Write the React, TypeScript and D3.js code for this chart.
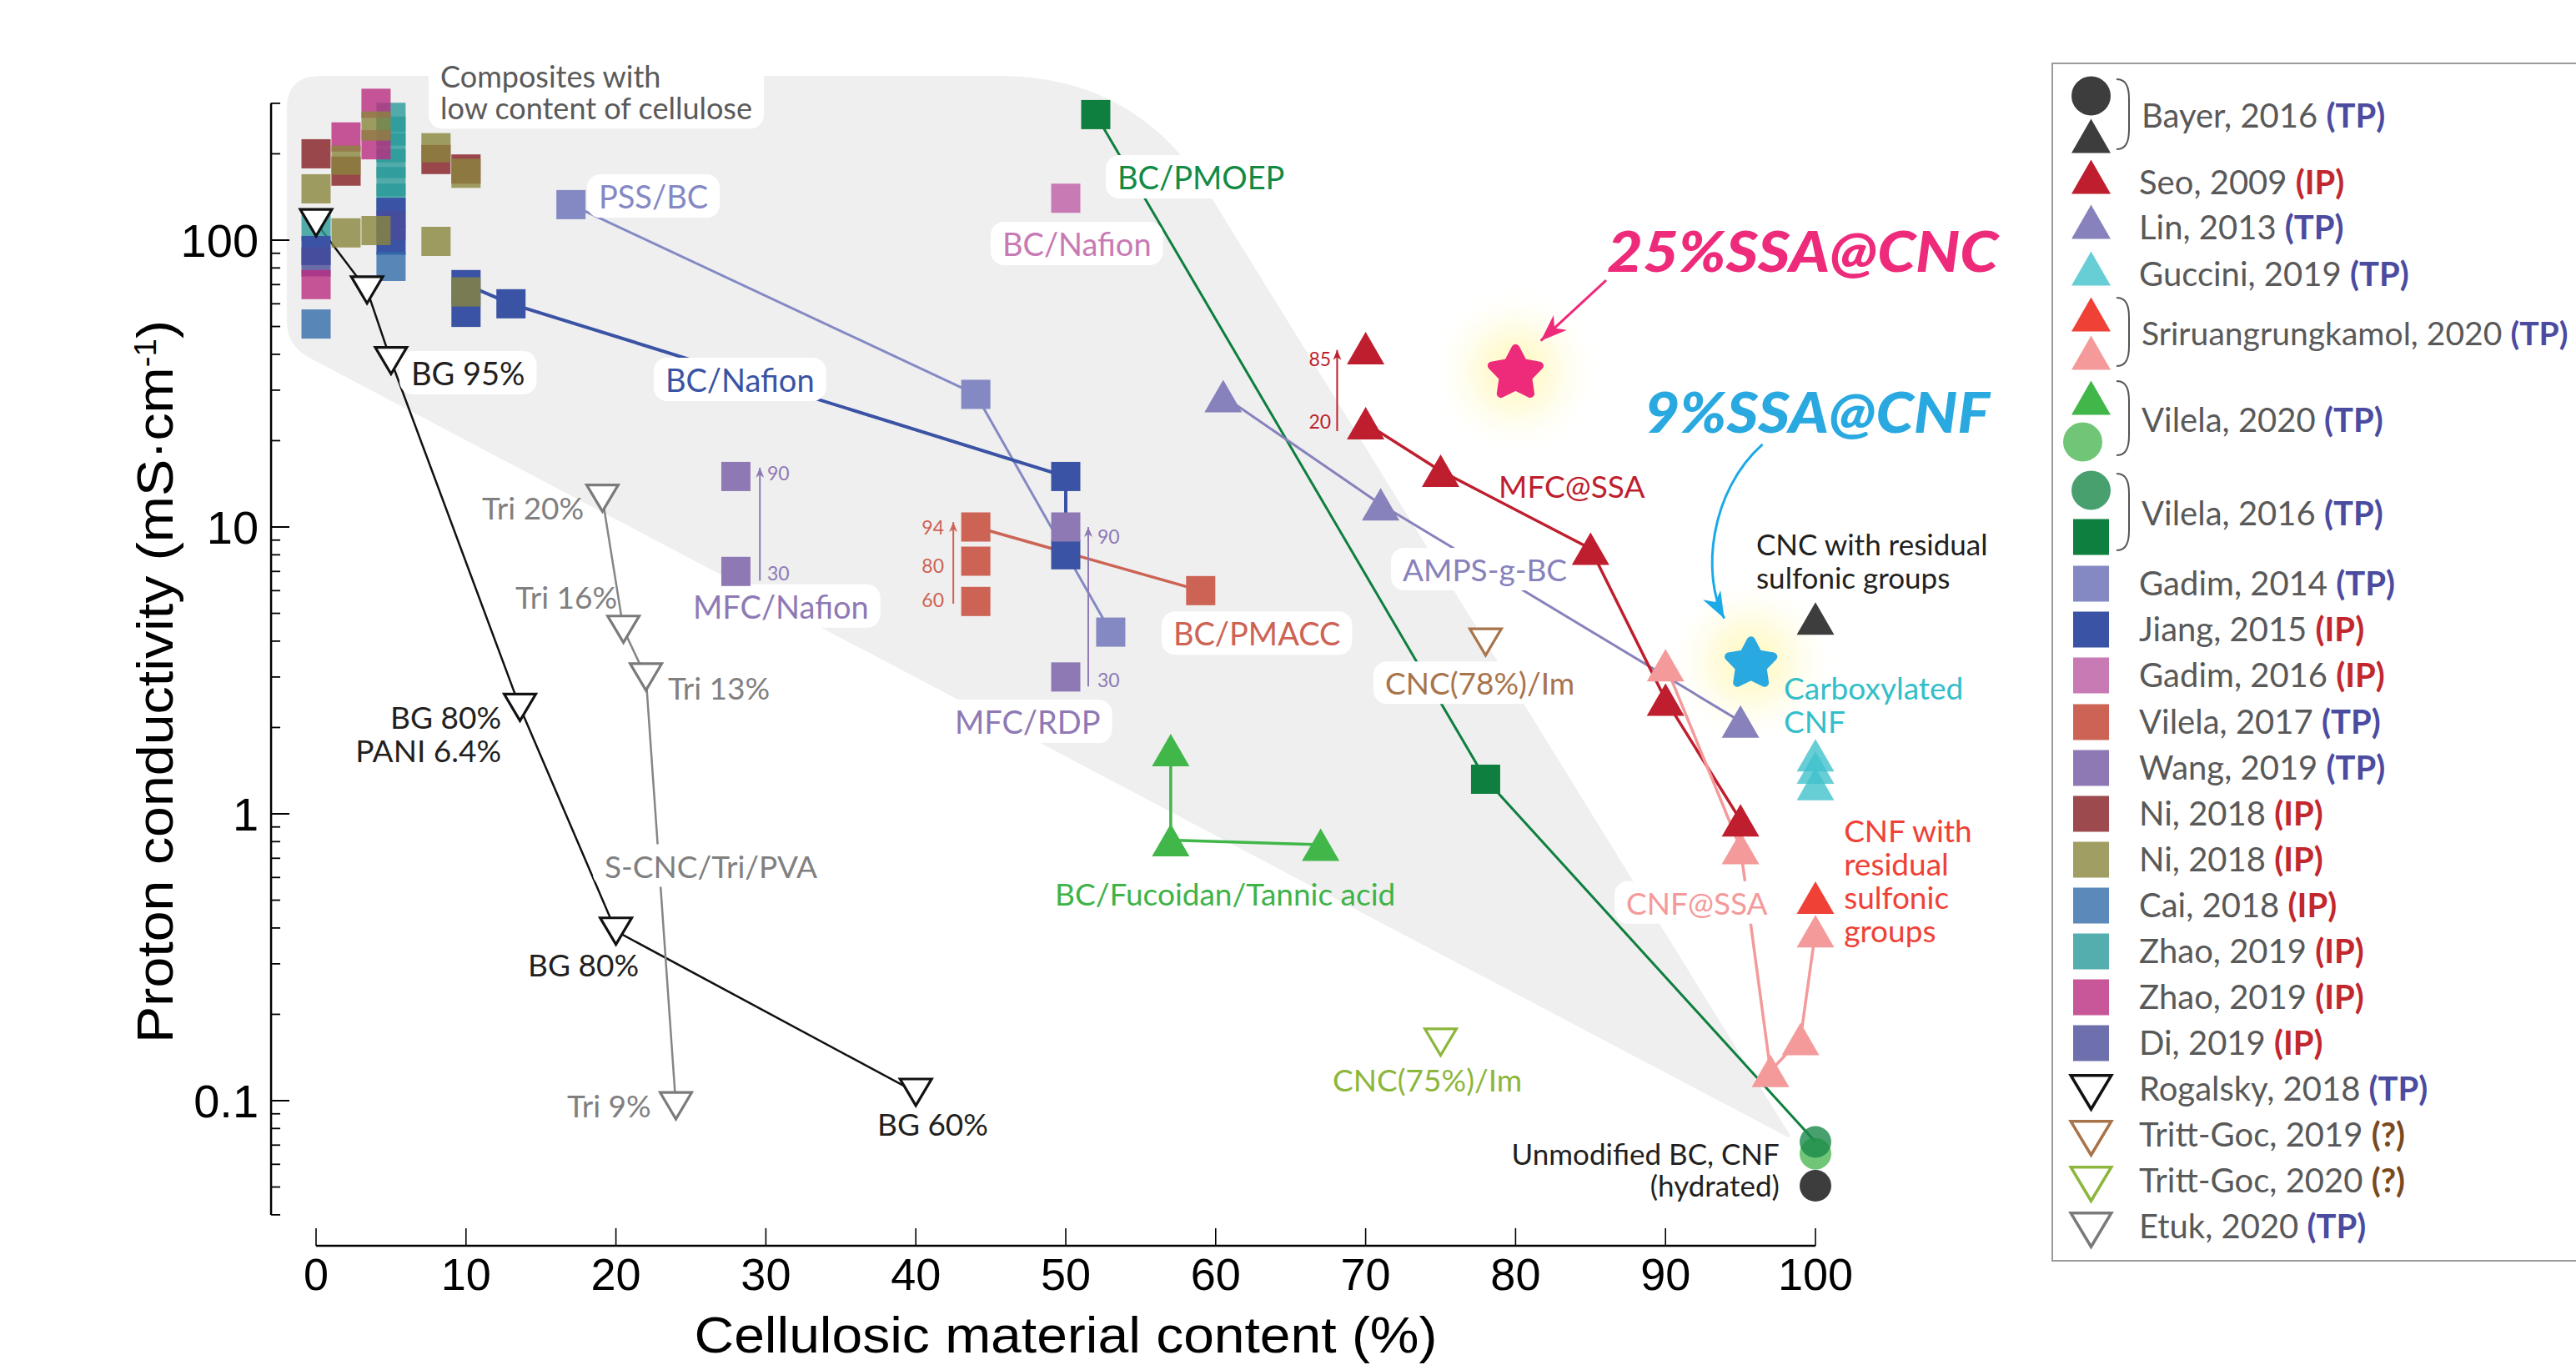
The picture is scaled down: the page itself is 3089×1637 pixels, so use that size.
import React, { useEffect, useRef } from "react";
import * as d3 from "d3";

type Pt = { x: number; y: number };

const CANVAS_W = 3089;
const CANVAS_H = 1637;

// ---------------- axes ----------------
const X_TICKS = [0, 10, 20, 30, 40, 50, 60, 70, 80, 90, 100];
const Y_MAJOR_TICKS = [0.1, 1, 10, 100];
const Y_TICK_LABELS = ["0.1", "1", "10", "100"];
const Y_MINOR_TICKS = [
  0.04, 0.05, 0.06, 0.07, 0.08, 0.09, 0.2, 0.3, 0.4, 0.5, 0.6, 0.7, 0.8, 0.9,
  2, 3, 4, 5, 6, 7, 8, 9, 20, 30, 40, 50, 60, 70, 80, 90, 200, 300,
];
const Y_MIN = 0.04;
const Y_MAX = 300;
const X_TITLE = "Cellulosic material content (%)";
const Y_TITLE = "Proton conductivity (mS·cm";
const Y_TITLE_SUP = "-1";

// ---------------- data ----------------
const bayerCNC: Pt[] = [{ x: 100, y: 4.8 }];
const bayerUnmodified: Pt[] = [{ x: 100, y: 0.0505 }];
const seoRangeTop: Pt[] = [{ x: 70, y: 42 }];
const seoMFCSSA: Pt[] = [
  { x: 70, y: 23 }, { x: 75, y: 15.7 }, { x: 85, y: 8.4 }, { x: 90, y: 2.5 }, { x: 95, y: 0.95 },
];
const linAMPS: Pt[] = [{ x: 60.5, y: 28.6 }, { x: 71, y: 12 }, { x: 95, y: 2.1 }];
const gucciniCNF: Pt[] = [{ x: 100, y: 1.6 }, { x: 100, y: 1.45 }, { x: 100, y: 1.27 }];
const sriSulfonic: Pt[] = [{ x: 100, y: 0.51 }];
const sriCNFSSA: Pt[] = [
  { x: 90, y: 3.3 }, { x: 95, y: 0.76 }, { x: 97, y: 0.127 }, { x: 99, y: 0.164 }, { x: 100, y: 0.39 },
];
const vilela2020Tannic: Pt[] = [{ x: 57, y: 1.67 }, { x: 57, y: 0.81 }, { x: 67, y: 0.78 }];
const vilela2020Unmodified: Pt[] = [{ x: 100, y: 0.0653 }];
const vilela2016Unmodified: Pt[] = [{ x: 100, y: 0.0718 }];
const vilela2016PMOEP: Pt[] = [{ x: 52, y: 274 }, { x: 78, y: 1.32 }];
const gadim2014PSS: Pt[] = [{ x: 17, y: 133 }, { x: 44, y: 29 }, { x: 53, y: 4.3 }];
const jiangBCNafion: Pt[] = [{ x: 10, y: 70 }, { x: 13, y: 60 }, { x: 50, y: 15 }, { x: 50, y: 8 }];
const jiangCluster: Pt[] = [{ x: 0, y: 92 }, { x: 5, y: 125 }, { x: 5, y: 100 }, { x: 10, y: 56 }];
const gadim2016BCNafion: Pt[] = [{ x: 50, y: 140 }];
const vilela2017PMACC: Pt[] = [{ x: 44, y: 10 }, { x: 59, y: 6 }];
const vilela2017Range: Pt[] = [{ x: 44, y: 7.6 }, { x: 44, y: 5.5 }];
const wangMFCNafion: Pt[] = [{ x: 28, y: 15 }, { x: 28, y: 7 }];
const wangMFCRDP: Pt[] = [{ x: 50, y: 10 }, { x: 50, y: 3 }];
const ni2018Red: Pt[] = [{ x: 0, y: 200 }, { x: 2, y: 174 }, { x: 8, y: 191 }, { x: 10, y: 177 }];
const ni2018Olive: Pt[] = [
  { x: 0, y: 151 }, { x: 2, y: 190 }, { x: 2, y: 106 }, { x: 4, y: 250 }, { x: 4, y: 108 },
  { x: 8, y: 210 }, { x: 8, y: 99 }, { x: 10, y: 171 }, { x: 10, y: 66 },
];
const cai2018: Pt[] = [{ x: 0, y: 51 }, { x: 5, y: 81 }];
const zhao2019Teal: Pt[] = [
  { x: 0, y: 112 }, { x: 5, y: 268 }, { x: 5, y: 240 }, { x: 5, y: 210 }, { x: 5, y: 185 },
  { x: 5, y: 160 }, { x: 5, y: 140 },
];
const zhao2019Pink: Pt[] = [{ x: 0, y: 70 }, { x: 2, y: 229 }, { x: 4, y: 300 }, { x: 4, y: 215 }];
const di2019: Pt[] = [{ x: 0, y: 84 }, { x: 5, y: 112 }];
const rogalskyBG: Pt[] = [
  { x: 0, y: 115 }, { x: 3.4, y: 67 }, { x: 5, y: 38 }, { x: 13.6, y: 2.35 }, { x: 20, y: 0.39 }, { x: 40, y: 0.107 },
];
const trittGoc2019: Pt[] = [{ x: 78, y: 3.97 }];
const trittGoc2020: Pt[] = [{ x: 75, y: 0.16 }];
const etukTri: Pt[] = [{ x: 19.1, y: 12.6 }, { x: 20.5, y: 4.4 }, { x: 22, y: 3.0 }, { x: 24, y: 0.096 }];
const ssaCNC: Pt[] = [{ x: 80, y: 35 }];
const ssaCNF: Pt[] = [{ x: 95.7, y: 3.4 }];

// annotation geometry (data coordinates)
const LOW_CELLULOSE_REGION: Pt[] = [
  { x: -1.95, y: 374 }, { x: 54.7, y: 374 }, { x: 98.5, y: 0.073 }, { x: -1.95, y: 42.8 },
];
const REGION_RADII = [40, 165, 10, 30];
const RANGE_ARROWS = [
  { x: 68.1, from: 21.6, to: 41.4, color: "#BE1E2D" },
  { x: 29.6, from: 6.5, to: 16.1, color: "#8E79B5" },
  { x: 42.5, from: 5.4, to: 10.4, color: "#CD6354" },
  { x: 51.5, from: 2.78, to: 10.0, color: "#8E79B5" },
];
const CNC_ARROW: Pt[] = [{ x: 86.04, y: 72.5 }, { x: 81.68, y: 44.6 }];
const CNF_ARROW: Pt[] = [{ x: 96.47, y: 19.4 }, { x: 92.94, y: 13.3 }, { x: 92.38, y: 6.78 }, { x: 93.92, y: 4.8 }];

type Label = {
  lines: string[]; x: number; y: number; color: string; size: number;
  anchor?: string; box?: boolean; lh?: number; bold?: boolean; italic?: boolean; len?: number;
};
const LABELS: Label[] = [
  { lines: ["Composites with", "low content of cellulose"], x: 8.29, y: 340, color: "#5a5a5a", size: 36, box: true, lh: 38 },
  { lines: ["PSS/BC"], x: 18.85, y: 128.9, color: "#8489C4", size: 38, box: true },
  { lines: ["BC/Nafion"], x: 23.3, y: 29.6, color: "#3A53A4", size: 38, box: true },
  { lines: ["BC/Nafion"], x: 45.77, y: 88.1, color: "#C87AB4", size: 38, box: true },
  { lines: ["BC/PMOEP"], x: 53.45, y: 150.4, color: "#138A45", size: 38, box: true },
  { lines: ["MFC/Nafion"], x: 25.14, y: 4.8, color: "#8E79B5", size: 38, box: true },
  { lines: ["MFC/RDP"], x: 42.6, y: 1.9, color: "#8E79B5", size: 38, box: true },
  { lines: ["BC/PMACC"], x: 57.17, y: 3.86, color: "#CD6354", size: 38, box: true },
  { lines: ["BC/Fucoidan/Tannic acid"], x: 49.28, y: 0.478, color: "#3FB34A", size: 37 },
  { lines: ["MFC@SSA"], x: 78.87, y: 12.6, color: "#BE1E2D", size: 37 },
  { lines: ["AMPS-g-BC"], x: 72.47, y: 6.47, color: "#8782BC", size: 37, box: true },
  { lines: ["CNC(78%)/Im"], x: 71.3, y: 2.6, color: "#A8744B", size: 37, box: true },
  { lines: ["CNC(75%)/Im"], x: 67.8, y: 0.1077, color: "#8DB63C", size: 37 },
  { lines: ["CNF@SSA"], x: 87.38, y: 0.446, color: "#F49A9A", size: 37, box: true },
  { lines: ["CNF with", "residual", "sulfonic", "groups"], x: 101.9, y: 0.797, color: "#EF4136", size: 37, lh: 40 },
  { lines: ["Carboxylated", "CNF"], x: 97.89, y: 2.51, color: "#33BECA", size: 37, lh: 40 },
  { lines: ["CNC with residual", "sulfonic groups"], x: 96.05, y: 7.98, color: "#231F20", size: 35, lh: 40 },
  { lines: ["Unmodified BC, CNF", "(hydrated)"], x: 97.6, y: 0.0599, color: "#231F20", size: 35, lh: 38, anchor: "end" },
  { lines: ["BG 95%"], x: 6.34, y: 31.2, color: "#231F20", size: 38, box: true },
  { lines: ["BG 80%", "PANI 6.4%"], x: 12.35, y: 1.98, color: "#231F20", size: 37, lh: 40, anchor: "end" },
  { lines: ["BG 80%"], x: 14.13, y: 0.2716, color: "#231F20", size: 37 },
  { lines: ["BG 60%"], x: 37.43, y: 0.0753, color: "#231F20", size: 37 },
  { lines: ["Tri 20%"], x: 11.07, y: 10.6, color: "#808080", size: 37 },
  { lines: ["Tri 16%"], x: 13.29, y: 5.19, color: "#808080", size: 37 },
  { lines: ["Tri 13%"], x: 23.47, y: 2.5, color: "#808080", size: 37 },
  { lines: ["Tri 9%"], x: 16.74, y: 0.0877, color: "#808080", size: 37 },
  { lines: ["S-CNC/Tri/PVA"], x: 19.24, y: 0.599, color: "#808080", size: 37, box: true },
  { lines: ["25%SSA@CNC"], x: 86.1, y: 77.5, color: "#EE2A7B", size: 66, bold: true, italic: true, len: 469 },
  { lines: ["9%SSA@CNF"], x: 88.6, y: 21.3, color: "#29A9E0", size: 66, bold: true, italic: true, len: 414 },
  { lines: ["85"], x: 67.69, y: 36.4, color: "#BE1E2D", size: 23, anchor: "end" },
  { lines: ["20"], x: 67.69, y: 22.0, color: "#BE1E2D", size: 23, anchor: "end" },
  { lines: ["94"], x: 41.88, y: 9.39, color: "#CD6354", size: 23, anchor: "end" },
  { lines: ["80"], x: 41.88, y: 6.9, color: "#CD6354", size: 23, anchor: "end" },
  { lines: ["60"], x: 41.88, y: 5.26, color: "#CD6354", size: 23, anchor: "end" },
  { lines: ["90"], x: 30.09, y: 14.5, color: "#8E79B5", size: 23 },
  { lines: ["30"], x: 30.09, y: 6.53, color: "#8E79B5", size: 23 },
  { lines: ["90"], x: 52.11, y: 8.75, color: "#8E79B5", size: 23 },
  { lines: ["30"], x: 52.11, y: 2.77, color: "#8E79B5", size: 23 },
];

// ---------------- series styles ----------------
type Style = { color: string; shape: string; alpha?: boolean };
const STYLES: Record<string, Style> = {
  zhaoTeal: { color: "#55AEAE", shape: "square", alpha: true },
  jiang: { color: "#3A53A4", shape: "square" },
  di: { color: "#6E70AE", shape: "square", alpha: true },
  cai: { color: "#5B89BA", shape: "square", alpha: true },
  zhaoPink: { color: "#C8579A", shape: "square", alpha: true },
  niRed: { color: "#9C4A4E", shape: "square", alpha: true },
  niOlive: { color: "#A19E64", shape: "square", alpha: true },
  gadim2014: { color: "#8489C4", shape: "square" },
  gadim2016: { color: "#C87AB4", shape: "square" },
  vilela2017: { color: "#CD6354", shape: "square" },
  wang: { color: "#8E79B5", shape: "square" },
  v2016Square: { color: "#0E7F3E", shape: "square" },
  bayerCircle: { color: "#3D3D3D", shape: "circle" },
  v2020Circle: { color: "#71C576", shape: "circle", alpha: true },
  v2016Circle: { color: "#48A06E", shape: "circle", alpha: true },
  v2020Tri: { color: "#41B649", shape: "triUp" },
  lin: { color: "#8782BC", shape: "triUp" },
  guccini: { color: "#67CED6", shape: "triUp", alpha: true },
  sriPink: { color: "#F49A9A", shape: "triUp" },
  seo: { color: "#BE1E2D", shape: "triUp" },
  sriRed: { color: "#EF4136", shape: "triUp" },
  bayerTri: { color: "#3D3D3D", shape: "triUp" },
  rogalsky: { color: "#111111", shape: "triDown" },
  etuk: { color: "#7a7a7a", shape: "triDown" },
  tg2019: { color: "#A8744B", shape: "triDown" },
  tg2020: { color: "#8DB63C", shape: "triDown" },
};

const SERIES_POINTS: [string, Pt[]][] = [
  ["zhaoTeal", zhao2019Teal],
  ["jiang", [...jiangCluster, ...jiangBCNafion]],
  ["di", di2019],
  ["cai", cai2018],
  ["zhaoPink", zhao2019Pink],
  ["niRed", ni2018Red],
  ["niOlive", ni2018Olive],
  ["gadim2014", gadim2014PSS],
  ["gadim2016", gadim2016BCNafion],
  ["vilela2017", [...vilela2017PMACC, ...vilela2017Range]],
  ["wang", [...wangMFCNafion, ...wangMFCRDP]],
  ["v2016Square", vilela2016PMOEP],
  ["bayerCircle", bayerUnmodified],
  ["v2020Circle", vilela2020Unmodified],
  ["v2016Circle", vilela2016Unmodified],
  ["v2020Tri", vilela2020Tannic],
  ["lin", linAMPS],
  ["guccini", gucciniCNF],
  ["sriPink", sriCNFSSA],
  ["seo", [...seoRangeTop, ...seoMFCSSA]],
  ["sriRed", sriSulfonic],
  ["bayerTri", bayerCNC],
  ["rogalsky", rogalskyBG],
  ["etuk", etukTri],
  ["tg2019", trittGoc2019],
  ["tg2020", trittGoc2020],
];

const SERIES_LINES: { pts: Pt[]; color: string; w: number }[] = [
  { pts: rogalskyBG, color: "#111111", w: 2.5 },
  { pts: etukTri, color: "#858585", w: 2.5 },
  { pts: gadim2014PSS, color: "#8489C4", w: 3 },
  { pts: jiangBCNafion, color: "#3A53A4", w: 4 },
  { pts: vilela2017PMACC, color: "#CD6354", w: 3.5 },
  { pts: [...vilela2016PMOEP, ...vilela2016Unmodified], color: "#0E7F3E", w: 3 },
  { pts: vilela2020Tannic, color: "#41B649", w: 3.5 },
  { pts: linAMPS, color: "#8782BC", w: 3 },
  { pts: seoMFCSSA, color: "#BE1E2D", w: 3.5 },
  { pts: sriCNFSSA, color: "#F49A9A", w: 3.5 },
];

const LEGEND_ENTRIES: { label: string; tag: string; keys: string[] }[] = [
  { label: "Bayer, 2016", tag: "TP", keys: ["bayerCircle", "bayerTri"] },
  { label: "Seo, 2009", tag: "IP", keys: ["seo"] },
  { label: "Lin, 2013", tag: "TP", keys: ["lin"] },
  { label: "Guccini, 2019", tag: "TP", keys: ["guccini"] },
  { label: "Sriruangrungkamol, 2020", tag: "TP", keys: ["sriRed", "sriPink"] },
  { label: "Vilela, 2020", tag: "TP", keys: ["v2020Tri", "v2020Circle"] },
  { label: "Vilela, 2016", tag: "TP", keys: ["v2016Circle", "v2016Square"] },
  { label: "Gadim, 2014", tag: "TP", keys: ["gadim2014"] },
  { label: "Jiang, 2015", tag: "IP", keys: ["jiang"] },
  { label: "Gadim, 2016", tag: "IP", keys: ["gadim2016"] },
  { label: "Vilela, 2017", tag: "TP", keys: ["vilela2017"] },
  { label: "Wang, 2019", tag: "TP", keys: ["wang"] },
  { label: "Ni, 2018", tag: "IP", keys: ["niRed"] },
  { label: "Ni, 2018", tag: "IP", keys: ["niOlive"] },
  { label: "Cai, 2018", tag: "IP", keys: ["cai"] },
  { label: "Zhao, 2019", tag: "IP", keys: ["zhaoTeal"] },
  { label: "Zhao, 2019", tag: "IP", keys: ["zhaoPink"] },
  { label: "Di, 2019", tag: "IP", keys: ["di"] },
  { label: "Rogalsky, 2018", tag: "TP", keys: ["rogalsky"] },
  { label: "Tritt-Goc, 2019", tag: "?", keys: ["tg2019"] },
  { label: "Tritt-Goc, 2020", tag: "?", keys: ["tg2020"] },
  { label: "Etuk, 2020", tag: "TP", keys: ["etuk"] },
];
// legend layout: vertical centres of marker rows
const LEGEND_ROWS = [115, 163, 212, 266, 322, 377, 423, 477, 530, 588, 644, 700, 755, 810, 866, 921, 976, 1031, 1086, 1141, 1196, 1251, 1306, 1361, 1416, 1471];
const TAG_COLORS: Record<string, string> = { TP: "#4B4BA0", IP: "#C1272D", "?": "#7A4A1F" };

const LABEL_FONT = "Lato, 'Noto Sans', sans-serif";
const AXIS_FONT = "'Liberation Sans', Arial, sans-serif";

function alphaBase(hex: string, a: number) {
  const c = d3.rgb(hex);
  const f = (v: number) => Math.max(0, Math.min(255, (v - 255 * (1 - a)) / a));
  return d3.rgb(f(c.r), f(c.g), f(c.b)).formatHex();
}

function roundedPath(pts: [number, number][], radii: number[]) {
  const n = pts.length;
  let d = "";
  for (let i = 0; i < n; i++) {
    const p = pts[i], prev = pts[(i - 1 + n) % n], next = pts[(i + 1) % n];
    const r = radii[i];
    const u = (a: [number, number], b: [number, number]) => {
      const dx = b[0] - a[0], dy = b[1] - a[1];
      const L = Math.hypot(dx, dy);
      return [dx / L, dy / L];
    };
    const v1 = u(p, prev), v2 = u(p, next);
    const a = [p[0] + v1[0] * r, p[1] + v1[1] * r];
    const b = [p[0] + v2[0] * r, p[1] + v2[1] * r];
    d += (i === 0 ? "M" : "L") + a[0] + "," + a[1] + "Q" + p[0] + "," + p[1] + " " + b[0] + "," + b[1];
  }
  return d + "Z";
}

function starPath(cx: number, cy: number, R: number, r: number) {
  const pts: string[] = [];
  for (let i = 0; i < 10; i++) {
    const ang = -Math.PI / 2 + (i * Math.PI) / 5;
    const rad = i % 2 === 0 ? R : r;
    pts.push(cx + rad * Math.cos(ang) + "," + (cy + rad * Math.sin(ang)));
  }
  return "M" + pts.join("L") + "Z";
}

const PLOT_SIZE = { sq: 35, tw: 45, th: 39, cr: 19, dw: 41, dh: 35, ds: 3.2 };
const LEG_SIZE = { sq: 43, tw: 47, th: 41, cr: 23.5, dw: 52, dh: 44, ds: 3.6 };

function drawMarker(g: any, st: Style, cx: number, cy: number, S: typeof PLOT_SIZE) {
  const fill = st.alpha ? alphaBase(st.color, 0.8) : st.color;
  const op = st.alpha ? 0.8 : 1;
  if (st.shape === "square") {
    g.append("rect").attr("x", cx - S.sq / 2).attr("y", cy - S.sq / 2).attr("width", S.sq).attr("height", S.sq)
      .attr("fill", fill).attr("opacity", op);
  } else if (st.shape === "circle") {
    g.append("circle").attr("cx", cx).attr("cy", cy).attr("r", S.cr).attr("fill", fill).attr("opacity", op);
  } else if (st.shape === "triUp") {
    g.append("path")
      .attr("d", `M${cx - S.tw / 2},${cy + S.th / 2}L${cx + S.tw / 2},${cy + S.th / 2}L${cx},${cy - S.th / 2}Z`)
      .attr("fill", fill).attr("opacity", op);
  } else if (st.shape === "triDown") {
    const w = S.dw - S.ds, h = S.dh - S.ds;
    g.append("path")
      .attr("d", `M${cx - w / 2},${cy - h / 2}L${cx + w / 2},${cy - h / 2}L${cx},${cy + h / 2}Z`)
      .attr("fill", "#ffffff").attr("stroke", st.color).attr("stroke-width", S.ds).attr("stroke-linejoin", "miter");
  }
}

export default function App() {
  const ref = useRef<SVGSVGElement | null>(null);

  useEffect(() => {
    if (!ref.current) return;
    const svg = d3.select(ref.current);
    svg.selectAll("*").remove();

    const x = d3.scaleLinear().domain([0, 100]).range([379, 2177]);
    const y = d3.scaleLog().domain([0.1, 100]).range([1320, 288]);
    const P = (p: Pt): [number, number] => [x(p.x), y(p.y)];

    const defs = svg.append("defs");
    const grad = defs.append("radialGradient").attr("id", "glow");
    grad.append("stop").attr("offset", "0%").attr("stop-color", "#fff6a0").attr("stop-opacity", 0.8);
    grad.append("stop").attr("offset", "45%").attr("stop-color", "#fff9c8").attr("stop-opacity", 0.55);
    grad.append("stop").attr("offset", "100%").attr("stop-color", "#ffffff").attr("stop-opacity", 0);

    const mkArrow = (id: string, color: string, len: number, wid: number) => {
      defs.append("marker").attr("id", id).attr("markerUnits", "userSpaceOnUse")
        .attr("viewBox", `0 0 ${len} ${wid}`).attr("refX", len).attr("refY", wid / 2)
        .attr("markerWidth", len).attr("markerHeight", wid).attr("orient", "auto")
        .append("path").attr("d", `M0,0L${len},${wid / 2}L0,${wid}L${len * 0.3},${wid / 2}Z`).attr("fill", color);
    };

    // --- low-cellulose region ---
    svg.append("path")
      .attr("d", roundedPath(LOW_CELLULOSE_REGION.map(P), REGION_RADII))
      .attr("fill", "#efefef");

    // --- axes ---
    const gAx = svg.append("g").attr("stroke", "#000");
    const yAxisX = x(-3);
    const xAxisY = y(Y_MIN) + 37;
    gAx.append("line").attr("x1", yAxisX).attr("x2", yAxisX).attr("y1", y(Y_MAX)).attr("y2", y(Y_MIN)).attr("stroke-width", 2.5);
    Y_MAJOR_TICKS.forEach((t) => {
      gAx.append("line").attr("x1", yAxisX).attr("x2", yAxisX + 22).attr("y1", y(t)).attr("y2", y(t)).attr("stroke-width", 2);
    });
    Y_MINOR_TICKS.forEach((t) => {
      gAx.append("line").attr("x1", yAxisX).attr("x2", yAxisX + 11).attr("y1", y(t)).attr("y2", y(t)).attr("stroke-width", 1.8);
    });
    Y_MAJOR_TICKS.forEach((t, i) => {
      svg.append("text").attr("x", yAxisX - 15).attr("y", y(t)).attr("dy", "0.36em")
        .attr("text-anchor", "end").attr("font-family", AXIS_FONT).attr("font-size", 56).attr("fill", "#000")
        .text(Y_TICK_LABELS[i]);
    });
    gAx.append("line").attr("x1", x(0)).attr("x2", x(100)).attr("y1", xAxisY).attr("y2", xAxisY).attr("stroke-width", 2.5);
    X_TICKS.forEach((t) => {
      gAx.append("line").attr("x1", x(t)).attr("x2", x(t)).attr("y1", xAxisY).attr("y2", xAxisY - 21).attr("stroke-width", 1.6);
      svg.append("text").attr("x", x(t)).attr("y", xAxisY + 53).attr("text-anchor", "middle")
        .attr("font-family", AXIS_FONT).attr("font-size", 54).attr("fill", "#000").text(String(t));
    });
    svg.append("text").attr("x", x(50)).attr("y", xAxisY + 128).attr("text-anchor", "middle")
      .attr("font-family", AXIS_FONT).attr("font-size", 62).attr("fill", "#000")
      .attr("textLength", 891).attr("lengthAdjust", "spacingAndGlyphs").text(X_TITLE);
    const yt = svg.append("text").attr("transform", `translate(207, ${(y(Y_MAX) + y(Y_MIN)) / 2 + 27}) rotate(-90)`)
      .attr("text-anchor", "middle").attr("font-family", AXIS_FONT).attr("font-size", 62).attr("fill", "#000")
      .attr("textLength", 867).attr("lengthAdjust", "spacingAndGlyphs");
    yt.append("tspan").text(Y_TITLE);
    yt.append("tspan").attr("font-size", 36).attr("baseline-shift", "super").text(Y_TITLE_SUP);
    yt.append("tspan").text(")");

    // --- glows ---
    const gGlow = svg.append("g");
    [...ssaCNC, ...ssaCNF].forEach((p) => {
      gGlow.append("circle").attr("cx", x(p.x)).attr("cy", y(p.y)).attr("r", 105).attr("fill", "url(#glow)");
    });

    // --- lines ---
    const gLines = svg.append("g").attr("fill", "none");
    const line = d3.line<Pt>().x((d) => x(d.x)).y((d) => y(d.y));
    SERIES_LINES.forEach((s) => {
      gLines.append("path").attr("d", line(s.pts)).attr("stroke", s.color).attr("stroke-width", s.w);
    });
    RANGE_ARROWS.forEach((a, i) => {
      mkArrow("ra" + i, a.color, 12, 10);
      gLines.append("line").attr("x1", x(a.x)).attr("x2", x(a.x)).attr("y1", y(a.from)).attr("y2", y(a.to))
        .attr("stroke", a.color).attr("stroke-width", 2).attr("marker-end", `url(#ra${i})`);
    });
    mkArrow("pinkArrow", "#EE2A7B", 32, 24);
    mkArrow("blueArrow", "#1BAAE6", 32, 24);
    gLines.append("path").attr("d", line(CNC_ARROW)).attr("stroke", "#EE2A7B").attr("stroke-width", 3)
      .attr("marker-end", "url(#pinkArrow)");
    const cp = CNF_ARROW.map(P);
    gLines.append("path")
      .attr("d", `M${cp[0][0]},${cp[0][1]}C${cp[1][0]},${cp[1][1]} ${cp[2][0]},${cp[2][1]} ${cp[3][0]},${cp[3][1]}`)
      .attr("stroke", "#1BAAE6").attr("stroke-width", 3).attr("marker-end", "url(#blueArrow)");

    // --- label boxes / markers / texts ---
    const gBoxes = svg.append("g");
    const gMarks = svg.append("g");
    const gText = svg.append("g");

    SERIES_POINTS.forEach(([key, pts]) => {
      pts.forEach((p) => drawMarker(gMarks, STYLES[key], x(p.x), y(p.y), PLOT_SIZE));
    });
    ssaCNC.forEach((p) => {
      gMarks.append("path").attr("d", starPath(x(p.x), y(p.y) + 3, 30, 15.5)).attr("fill", "#EE2A7B")
        .attr("stroke", "#EE2A7B").attr("stroke-width", 10).attr("stroke-linejoin", "round");
    });
    ssaCNF.forEach((p) => {
      gMarks.append("path").attr("d", starPath(x(p.x), y(p.y) + 3, 28, 14.5)).attr("fill", "#29A9E0")
        .attr("stroke", "#29A9E0").attr("stroke-width", 10).attr("stroke-linejoin", "round");
    });

    LABELS.forEach((L) => {
      const tx = x(L.x), ty = y(L.y);
      const t = gText.append("text").attr("x", tx).attr("y", ty)
        .attr("text-anchor", L.anchor || "start").attr("font-family", LABEL_FONT)
        .attr("font-size", L.size).attr("fill", L.color)
        .attr("font-weight", L.bold ? 900 : 400).attr("font-style", L.italic ? "italic" : "normal");
      if (L.lines.length === 1) {
        t.text(L.lines[0]);
        if (L.len) t.attr("textLength", L.len).attr("lengthAdjust", "spacingAndGlyphs");
      } else {
        L.lines.forEach((s, i) => t.append("tspan").attr("x", tx).attr("y", ty + i * (L.lh || 40)).text(s));
      }
      if (L.box) {
        const bb = (t.node() as SVGTextElement).getBBox();
        gBoxes.append("rect").attr("x", bb.x - 14).attr("y", bb.y - 3).attr("width", bb.width + 28)
          .attr("height", bb.height + 6).attr("rx", 16).attr("fill", "#ffffff");
      }
    });

    // --- legend ---
    const gLeg = svg.append("g");
    gLeg.append("rect").attr("x", 2461).attr("y", 76).attr("width", 800).attr("height", 1436)
      .attr("fill", "#ffffff").attr("stroke", "#9a9a9a").attr("stroke-width", 2);
    const legendRight = CANVAS_W - 8;
    let row = 0;
    LEGEND_ENTRIES.forEach((e) => {
      const ys = e.keys.map((k) => {
        const yy = LEGEND_ROWS[row++];
        const st = STYLES[k];
        const dx = k === "v2020Circle" ? -10 : 0;
        drawMarker(gLeg, st, 2507.5 + dx, yy + (st.shape === "triDown" ? 4 : 0), LEG_SIZE);
        return yy;
      });
      const single = ys.length === 1;
      const st0 = STYLES[e.keys[0]];
      const cy = single ? ys[0] + (st0.shape === "triUp" ? 7 : 0) : (ys[0] + ys[ys.length - 1]) / 2;
      const tx = single ? 2565 : 2568;
      const t = gLeg.append("text").attr("x", tx).attr("y", cy + 14)
        .attr("font-family", LABEL_FONT).attr("font-size", 40).attr("fill", "#595959");
      t.append("tspan").text(e.label + " ");
      t.append("tspan").attr("fill", TAG_COLORS[e.tag]).attr("font-weight", 700).text(`(${e.tag})`);
      const w = (t.node() as SVGTextElement).getComputedTextLength();
      if (tx + w > legendRight) {
        t.attr("font-size", Math.floor((40 * (legendRight - tx)) / w * 10) / 10);
      }
      if (!single) {
        const top = ys[0] - 20, bot = ys[ys.length - 1] + 16, bx = 2538;
        gLeg.append("path")
          .attr("d", `M${bx},${top}C${bx + 12},${top} ${bx + 15},${top + 10} ${bx + 15},${top + 24}L${bx + 15},${bot - 24}C${bx + 15},${bot - 10} ${bx + 12},${bot} ${bx},${bot}`)
          .attr("fill", "none").attr("stroke", "#555").attr("stroke-width", 2);
      }
    });
  }, []);

  return (
    <svg
      ref={ref}
      width={CANVAS_W}
      height={CANVAS_H}
      style={{ position: "absolute", left: 0, top: 0, display: "block", background: "#ffffff" }}
    />
  );
}
